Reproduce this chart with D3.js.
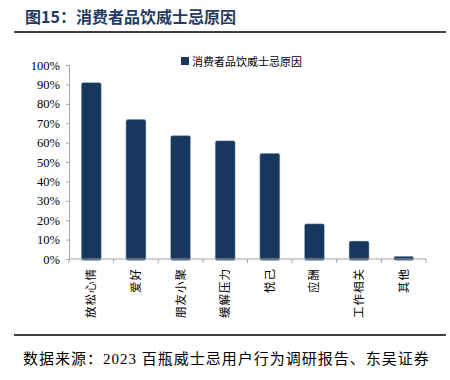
<!DOCTYPE html>
<html>
<head>
<meta charset="utf-8">
<script src="https://cdn.jsdelivr.net/npm/d3@7"></script>
<style>
  html, body { margin: 0; padding: 0; background: #fff; }
</style>
</head>
<body>
<div id="chart"></div>
<script>
const categories = ["放松心情", "爱好", "朋友小聚", "缓解压力", "悦己", "应酬", "工作相关", "其他"];
const values = [0.91, 0.72, 0.636, 0.61, 0.545, 0.182, 0.093, 0.014];
const yTicks = [0, 0.1, 0.2, 0.3, 0.4, 0.5, 0.6, 0.7, 0.8, 0.9, 1.0];
const seriesName = "消费者品饮威士忌原因";
const title = "图15：消费者品饮威士忌原因";
const source = "数据来源：2023 百瓶威士忌用户行为调研报告、东吴证券";

const width = 450, height = 380;
const barColor = "#17375e";
const axisColor = "#a6a6a6";
const cjk = "'Noto Sans CJK SC', sans-serif";
const serif = "'Liberation Serif', 'Times New Roman', serif";

const svg = d3.select("#chart").append("svg")
  .attr("width", width)
  .attr("height", height)
  .attr("viewBox", `0 0 ${width} ${height}`);

// header
svg.append("text")
  .attr("x", 25).attr("y", 23)
  .attr("fill", "#1f3a64")
  .attr("font-size", 16)
  .attr("font-weight", "bold")
  .attr("font-family", cjk)
  .text(title);
svg.append("line")
  .attr("x1", 14).attr("x2", 446).attr("y1", 32).attr("y2", 32)
  .attr("stroke", "#000").attr("stroke-width", 1.5);

const margin = { top: 65, left: 69, right: 24, bottom: 121 };
const innerW = width - margin.left - margin.right;
const innerH = height - margin.top - margin.bottom;
const root = svg.append("g").attr("transform", `translate(${margin.left}, ${margin.top})`);

const x = d3.scaleBand().domain(categories).range([0, innerW]).paddingInner(0.55).paddingOuter(0.275);
const y = d3.scaleLinear().domain([0, 1]).range([innerH, 0]);

// bars
root.selectAll("rect.bar")
  .data(values)
  .enter()
  .append("rect")
  .attr("class", "bar")
  .attr("x", (d, i) => x(categories[i]))
  .attr("y", (d) => y(d))
  .attr("width", x.bandwidth())
  .attr("height", (d) => innerH - y(d) + 1.5)
  .attr("rx", 2)
  .attr("fill", barColor)
  .attr("stroke", "#c5cedb")
  .attr("stroke-width", 0.5);

// y axis
root.append("g")
  .call(d3.axisLeft(y).tickValues(yTicks).tickFormat(d3.format(".0%")).tickSize(3).tickPadding(6))
  .call((g) => g.select(".domain").attr("stroke", axisColor))
  .call((g) => g.selectAll("line").attr("stroke", axisColor))
  .call((g) => g.selectAll("text").attr("fill", "#000").attr("font-size", 12.5).attr("font-family", serif));

// x axis with ticks at band boundaries
const step = x.step();
const xAxis = root.append("g").attr("transform", `translate(0, ${innerH})`);
xAxis.append("line")
  .attr("x1", 0).attr("x2", innerW)
  .attr("stroke", axisColor).attr("stroke-width", 1.2);
xAxis.selectAll("line.tick")
  .data(d3.range(categories.length + 1))
  .enter()
  .append("line")
  .attr("class", "tick")
  .attr("x1", (d) => d * step).attr("x2", (d) => d * step)
  .attr("y1", 0).attr("y2", 4)
  .attr("stroke", axisColor);
xAxis.selectAll("text")
  .data(categories)
  .enter()
  .append("text")
  .attr("transform", (d) => `translate(${x(d) + x.bandwidth() / 2 + 4}, 9) rotate(-90)`)
  .attr("text-anchor", "end")
  .attr("fill", "#000")
  .attr("font-size", 11.5)
  .attr("font-family", cjk)
  .attr("letter-spacing", 1)
  .text((d) => d);

// legend
const legend = svg.append("g").attr("transform", "translate(181, 57)");
legend.append("rect").attr("width", 8).attr("height", 8).attr("fill", barColor);
legend.append("text")
  .attr("x", 11).attr("y", 8.5)
  .attr("fill", "#000")
  .attr("font-size", 11)
  .attr("font-family", cjk)
  .text(seriesName);

// footer
svg.append("line")
  .attr("x1", 14).attr("x2", 446).attr("y1", 335).attr("y2", 335)
  .attr("stroke", "#000").attr("stroke-width", 1.5);
svg.append("text")
  .attr("x", 23).attr("y", 364)
  .attr("fill", "#000")
  .attr("font-size", 15)
  .attr("letter-spacing", 1)
  .attr("font-family", "'Liberation Serif', 'Noto Sans CJK SC', serif")
  .text(source);
</script>
</body>
</html>
